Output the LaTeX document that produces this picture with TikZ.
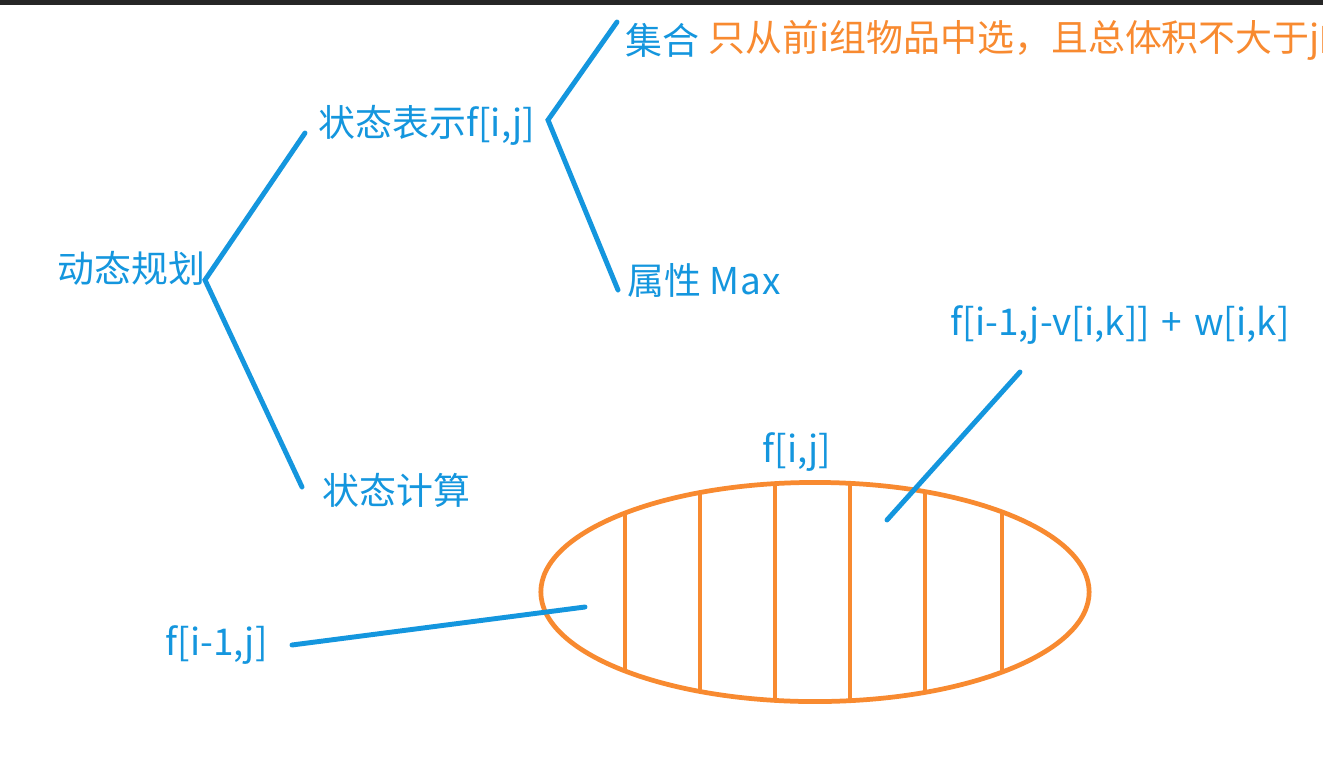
\documentclass[tikz,border=0pt]{standalone}
\usepackage{fontspec}
\setmainfont{Noto Sans CJK SC}
\usetikzlibrary{positioning}
\definecolor{penblue}{RGB}{20,150,222}
\definecolor{penorange}{RGB}{248,138,48}

\begin{document}
\begin{tikzpicture}[
    x=0.01cm,
    y=-0.01cm,
    font=\fontsize{10.5pt}{12pt}\selectfont,
    label/.style={anchor=west, inner sep=0pt, text=penblue},
    note/.style={anchor=west, inner sep=0pt, text=penorange},
    branch/.style={penblue, line width=1.4pt, line cap=round},
    bag/.style={penorange, line width=1.35pt}
  ]
    \clip (0,0) rectangle (1323,769);
    \fill[white] (0,0) rectangle (1323,769);
    \fill[black!85] (0,0) rectangle (1323,5);

    % tree of the dp idea
    \node[label] (dp) at (57,268) {动态规划};
    \node[label] (repr) at (318,125) {状态表示f[i,j]};
    \node[label] (set) at (625,40) {集合};
    \node[note] (setdesc) at (708,40) {只从前i组物品中选，且总体积不大于j的};
    \node[label] (attr) at (627,280) {属性 M\kern0.3pt a\kern0.3pt x};
    \node[label] (calc) at (322,490) {状态计算};

    \coordinate (dp-out) at (205,280);
    \coordinate (repr-in) at (305,133);
    \coordinate (calc-in) at (302,487);
    \coordinate (repr-out) at (548,120);
    \coordinate (set-in) at (617,22);
    \coordinate (attr-in) at (618,290);

    \draw[branch] (repr-in) -- (dp-out) -- (calc-in);
    \draw[branch] (set-in) -- (repr-out) -- (attr-in);

    % the set f[i,j], split by the k-th item of group i
    \begin{scope}
        \clip (815,592) ellipse [x radius=2.74cm, y radius=1.095cm];
        \foreach \x in {625,700,775,850,925,1002} {
            \draw[bag] (\x,470) -- (\x,720);
        }
    \end{scope}
    \draw[bag] (815,592) ellipse [x radius=2.74cm, y radius=1.095cm];

    \node[label] (fij) at (762,452) {f[i,j]};
    \node[label] (fprev) at (165,645) {f[i-1,j]};
    \node[label] (fpick) at (950,325) {f[i-1,j-v[i,k]]\hspace{1pt} + \hspace{1pt}w[i,k]};

    \coordinate (fprev-out) at (292,645);
    \coordinate (part0) at (585,607);
    \coordinate (fpick-in) at (1020,372);
    \coordinate (partk) at (887,520);

    \draw[branch] (fprev-out) -- (part0);
    \draw[branch] (fpick-in) -- (partk);
\end{tikzpicture}
\end{document}
